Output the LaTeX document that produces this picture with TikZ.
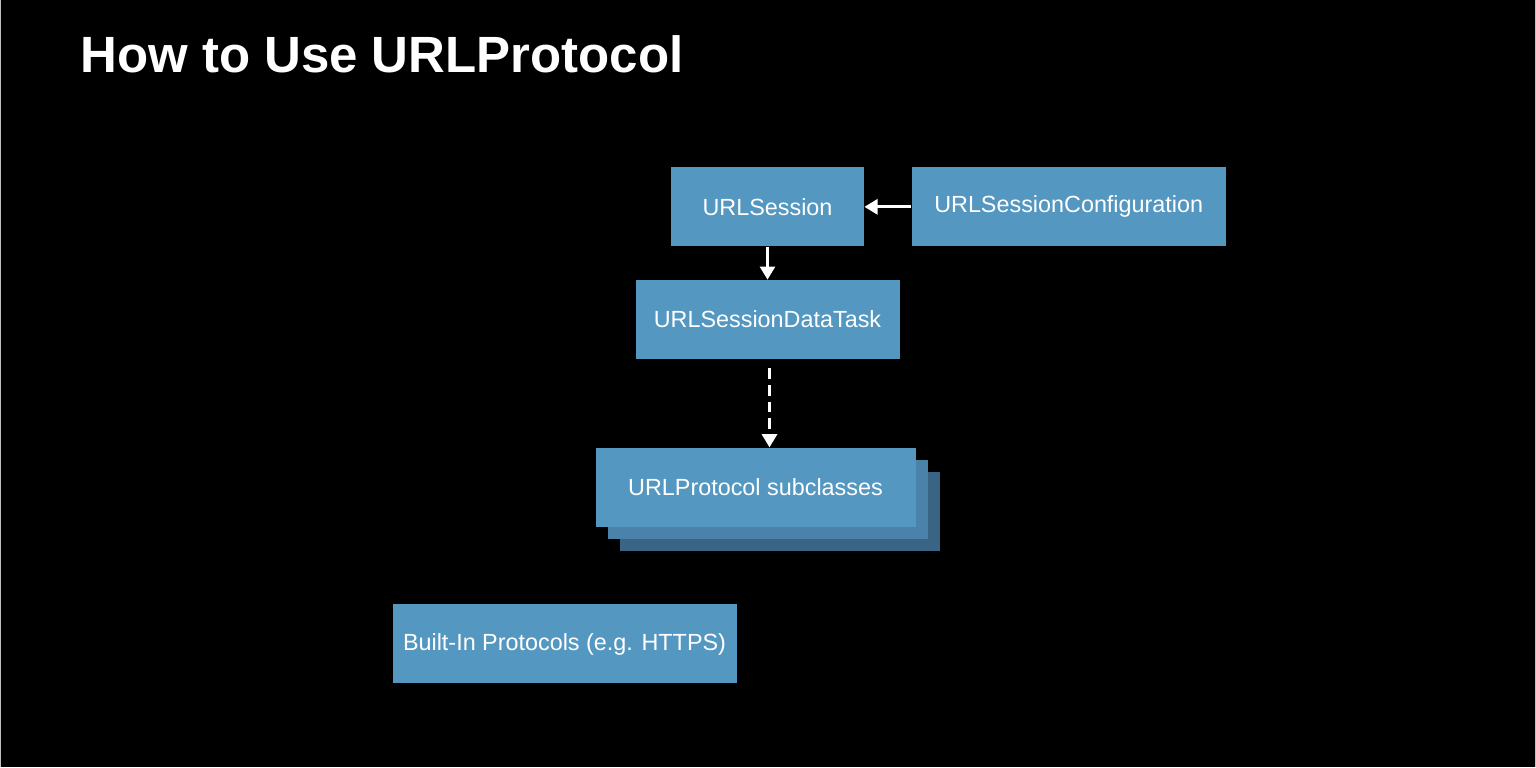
\documentclass[tikz,border=0pt]{standalone}
\usepackage{fontspec}
\setmainfont{Liberation Sans}
\usetikzlibrary{arrows.meta, positioning, backgrounds}
\definecolor{boxblue}{HTML}{5497C1}
\definecolor{boxmid}{HTML}{4A82AA}
\definecolor{boxdark}{HTML}{3A6484}
\tikzstyle{arrow} = [-{Triangle[length=7.5pt, width=8.5pt]}, line width=1.7pt, color=white]

\begin{document}
\begin{tikzpicture}[
    node distance=0.66cm and 0.94cm,
    classbox/.style={rectangle, fill=boxblue, text=white, minimum height=1.58cm,
                     inner sep=0pt, font=\fontsize{13.3}{16}\selectfont},
    layerbox/.style={rectangle, minimum width=6.4cm, minimum height=1.58cm, inner sep=0pt}
]

    % Canvas
    \begin{scope}[on background layer]
        \fill[black] (0,0) rectangle (30.72,-15.34);
        \draw[gray!50, line width=0.4pt] (0.01,0) -- (0.01,-15.34);
        \draw[gray!50, line width=0.4pt] (30.71,0) -- (30.71,-15.34);
    \end{scope}
    \useasboundingbox (0,0) rectangle (30.72,-15.34);

    % Title
    \node[anchor=base west, text=white, inner sep=0pt,
          font=\fontsize{29}{35}\selectfont\bfseries] (title) at (1.6,-1.44) {How to Use URLProtocol};

    % Row 1: session + configuration
    \node[classbox, minimum width=3.86cm] (session) at (15.35,-4.13) {URLSession};
    \node[classbox, minimum width=6.28cm, right=of session] (config) {URLSessionConfiguration};

    % Row 2: data task
    \node[classbox, minimum width=5.28cm, below=of session] (task) {URLSessionDataTask};

    % Row 3: protocol subclasses (stacked)
    \node[classbox, minimum width=6.4cm, below=1.76cm of task, xshift=-0.24cm] (proto) {URLProtocol subclasses};
    \begin{scope}[on background layer]
        \node[layerbox, fill=boxdark] (layer2) at ([xshift=0.48cm, yshift=-0.48cm]proto.center) {};
        \node[layerbox, fill=boxmid] (layer1) at ([xshift=0.24cm, yshift=-0.24cm]proto.center) {};
    \end{scope}

    % Row 4: built-in protocols
    \node[classbox, minimum width=6.88cm, below=1.54cm of proto, xshift=-3.82cm] (builtin) {Built-In Protocols (e.g. HTTPS)};

    % Arrows
    \draw[arrow] (config) -- (session);
    \draw[arrow] (session) -- (task);
    \draw[arrow, dash pattern=on 6pt off 3.5pt, shorten <=0.18cm]
        ([xshift=0.04cm]task.south) -- ([xshift=0.04cm]task.south |- proto.north);

\end{tikzpicture}
\end{document}
